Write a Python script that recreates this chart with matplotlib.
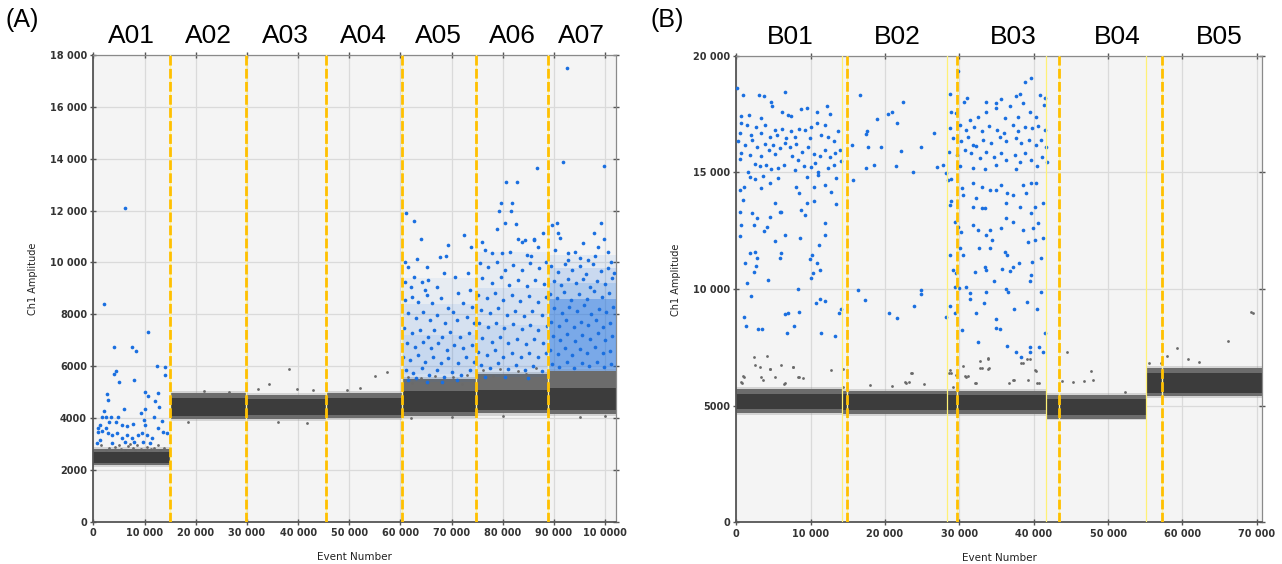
import matplotlib
matplotlib.use("Agg")
import matplotlib.pyplot as plt
import matplotlib.transforms as mtransforms

# all event numbers and amplitudes below are in thousands

# ---------------- panel A ----------------
a_wells = ["A01", "A02", "A03", "A04", "A05", "A06", "A07"]
a_label_x = [7.5, 22.4, 37.6, 52.8, 67.5, 81.8, 95.4]
a_edges = [0, 15.0, 29.9, 45.4, 60.2, 74.8, 88.8, 102.1]
a_dashes = [15.0, 29.9, 45.4, 60.2, 74.8, 88.8]
# negative droplet band per well: (low, high)
a_band_outer = [(2.20, 2.80), (3.95, 4.95), (3.98, 4.90), (4.00, 4.95),
                (4.10, 5.50), (4.18, 5.70), (4.15, 5.82)]
a_band_core = [(2.28, 2.68), (4.10, 4.78), (4.12, 4.75), (4.12, 4.78),
               (4.25, 5.05), (4.30, 5.10), (4.30, 5.15)]
# dense positive droplet clouds: (well index, low, high, density)
a_clouds = [(4, 5.4, 7.2, 0.08), (4, 5.5, 8.4, 0.08), (4, 5.7, 9.4, 0.06),
            (5, 5.6, 7.6, 0.08), (5, 5.7, 9.0, 0.08), (5, 5.9, 10.4, 0.06),
            (6, 5.82, 8.6, 0.35), (6, 5.82, 9.2, 0.15), (6, 5.9, 9.8, 0.12),
            (6, 6.0, 10.3, 0.08)]

a01_pos = [(6.19, 12.08), (2.09, 8.38), (4.10, 6.75), (7.62, 6.75), (8.34, 6.60),
           (10.74, 7.32), (12.44, 6.02), (14.0, 5.98), (14.06, 5.65), (4.49, 5.83),
           (4.10, 5.70), (5.02, 5.39), (8.01, 5.47), (2.62, 4.92), (2.93, 4.69),
           (10.10, 5.01), (10.74, 4.85), (12.69, 4.98), (12.05, 4.66), (12.89, 4.44),
           (2.03, 4.26), (5.94, 4.34), (9.32, 4.21), (10.10, 4.34), (11.85, 4.04),
           (13.48, 3.89), (0.98, 3.62), (1.31, 3.75), (1.64, 4.06), (2.42, 4.05),
           (3.13, 3.85), (0.98, 3.47), (1.64, 3.52), (2.42, 3.62), (2.93, 3.42),
           (3.46, 4.03), (4.88, 4.06), (4.37, 3.84), (5.66, 3.74), (6.52, 3.71),
           (7.81, 3.76), (9.96, 3.93), (10.10, 3.74), (12.69, 3.61), (13.67, 3.45),
           (14.33, 3.42), (3.59, 3.35), (4.57, 3.42), (5.55, 3.23), (6.52, 3.35),
           (7.50, 3.23), (8.79, 3.35), (9.45, 3.42), (10.43, 3.35), (11.41, 3.23),
           (1.31, 3.16), (0.66, 3.03), (3.59, 3.03), (6.19, 3.09), (8.01, 3.09),
           (9.77, 3.09), (11.07, 3.03)]

a05_pos = [(61.07, 11.92), (62.63, 11.60), (64.0, 10.89), (67.71, 10.20), (68.82, 10.26),
           (69.21, 10.67), (72.46, 11.04), (73.76, 10.61), (63.15, 10.12), (60.87, 10.03),
           (61.52, 9.81), (65.10, 9.81), (68.56, 9.60), (70.64, 9.45), (73.24, 9.58),
           (62.70, 9.45), (64.26, 9.26), (65.43, 9.32), (60.87, 9.26), (71.29, 8.81),
           (73.57, 8.94), (67.06, 9.07), (62.04, 9.07), (64.78, 8.94),
           (60.87, 8.55), (62.30, 8.68), (63.48, 8.49), (65.10, 8.74), (66.21, 8.42),
           (67.90, 8.61), (69.34, 8.23), (70.31, 8.10), (72.27, 8.42), (74.02, 8.29),
           (61.52, 8.04), (62.96, 7.84), (64.45, 8.10), (65.76, 7.78), (67.06, 7.97),
           (68.69, 7.65), (70.96, 7.78), (72.92, 7.91), (74.28, 7.65),
           (60.74, 7.46), (62.17, 7.27), (63.80, 7.39), (65.30, 7.14), (66.60, 7.39),
           (68.03, 7.14), (69.66, 7.33), (71.61, 7.14), (73.37, 7.27),
           (61.20, 6.88), (62.83, 6.75), (64.45, 6.94), (65.95, 6.69), (67.38, 6.88),
           (69.01, 6.62), (70.51, 6.82), (72.27, 6.69), (73.89, 6.82),
           (60.55, 6.37), (61.85, 6.24), (63.35, 6.43), (64.78, 6.17), (66.41, 6.37),
           (67.90, 6.14), (69.34, 6.30), (71.16, 6.14), (72.72, 6.37), (74.41, 6.17),
           (61.0, 5.85), (62.5, 5.72), (64.13, 5.92), (65.56, 5.66), (67.06, 5.85),
           (68.56, 5.60), (69.99, 5.79), (71.81, 5.66), (73.57, 5.85),
           (61.52, 5.47), (65.1, 5.40), (68.03, 5.40), (70.96, 5.47), (62.96, 5.53)]

a06_pos = [(82.75, 13.11), (81.84, 12.28), (81.57, 11.99), (82.49, 11.48), (78.91, 11.28),
           (75.98, 10.80), (83.01, 10.89), (83.66, 10.80), (84.31, 10.86), (86.13, 10.86),
           (86.91, 10.61), (87.89, 11.12), (76.50, 10.48), (77.80, 10.38), (79.75, 10.35),
           (81.38, 10.41), (84.63, 10.29), (85.48, 10.25), (86.6, 13.65), (80.6, 13.1),
           (79.6, 12.3), (79.3, 12.0), (80.5, 11.5), (86.0, 10.9),
           (75.52, 9.96), (77.15, 9.81), (78.78, 10.03), (80.40, 9.71), (82.03, 9.90),
           (83.66, 9.71), (85.29, 9.96), (87.04, 9.77), (88.35, 10.03),
           (75.98, 9.39), (77.80, 9.19), (79.62, 9.45), (81.18, 9.13), (82.88, 9.32),
           (84.63, 9.09), (86.26, 9.32), (88.08, 9.17),
           (75.20, 8.74), (76.82, 8.61), (78.45, 8.81), (80.08, 8.55), (81.71, 8.74),
           (83.33, 8.53), (85.09, 8.71), (86.78, 8.49), (88.35, 8.68),
           (75.72, 8.17), (77.47, 8.04), (79.10, 8.23), (80.73, 7.97), (82.36, 8.14),
           (84.18, 7.93), (85.74, 8.14), (87.56, 7.97),
           (75.33, 7.65), (77.02, 7.50), (78.58, 7.68), (80.27, 7.46), (82.03, 7.63),
           (83.66, 7.42), (85.29, 7.59), (86.91, 7.39), (88.54, 7.55),
           (75.98, 7.07), (77.80, 6.94), (79.42, 7.14), (81.05, 6.88), (82.68, 7.03),
           (84.44, 6.85), (86.13, 7.03), (87.89, 6.88),
           (75.20, 6.56), (76.82, 6.43), (78.45, 6.62), (80.08, 6.37), (81.71, 6.52),
           (83.53, 6.34), (85.09, 6.52), (86.78, 6.37), (88.35, 6.50),
           (75.72, 6.05), (77.47, 5.92), (79.10, 6.11), (80.92, 5.88), (82.49, 6.05),
           (84.31, 5.85), (85.94, 6.01), (87.70, 5.83),
           (76.50, 5.60), (80.40, 5.57), (84.83, 5.53)]

a07_pos = [(92.5, 17.49), (91.7, 13.87), (99.7, 13.70),
           (89.52, 11.44), (90.49, 11.51), (90.69, 11.12), (91.14, 10.93), (92.64, 10.38),
           (94.07, 10.41), (95.70, 10.76), (97.85, 11.15), (99.09, 11.51), (98.63, 10.61),
           (99.80, 10.89), (100.6, 10.41), (90.17, 10.48), (95.05, 10.16), (96.68, 10.09),
           (97.98, 10.25), (92.77, 10.09), (101.2, 10.03),
           (89.4, 9.85), (90.8, 9.62), (92.1, 9.95), (93.5, 9.70), (95.0, 9.88),
           (96.3, 9.55), (97.7, 9.92), (99.2, 9.66), (100.6, 9.80), (101.7, 9.58),
           (89.9, 9.30), (91.3, 9.12), (92.8, 9.38), (94.2, 9.20), (95.7, 9.35),
           (97.0, 9.05), (98.4, 9.28), (99.9, 9.15), (101.3, 9.40),
           (89.3, 8.80), (90.6, 8.62), (92.0, 8.85), (93.4, 8.55), (94.9, 8.78),
           (96.4, 8.60), (97.8, 8.90), (99.3, 8.66), (100.8, 8.82),
           (90.0, 8.25), (91.5, 8.05), (92.9, 8.30), (94.4, 8.12), (95.8, 8.36),
           (97.3, 8.02), (98.7, 8.22), (100.2, 8.08), (101.6, 8.30),
           (89.5, 7.70), (90.9, 7.55), (92.3, 7.78), (93.8, 7.50), (95.2, 7.72),
           (96.7, 7.58), (98.1, 7.80), (99.6, 7.52), (101.0, 7.68),
           (89.8, 7.15), (91.2, 7.02), (92.6, 7.25), (94.1, 6.98), (95.5, 7.20),
           (97.0, 7.05), (98.5, 7.28), (99.9, 7.00), (101.4, 7.18),
           (89.2, 6.62), (90.7, 6.48), (92.2, 6.70), (93.6, 6.45), (95.1, 6.66),
           (96.5, 6.52), (98.0, 6.75), (99.5, 6.50), (100.9, 6.60),
           (89.6, 6.10), (91.0, 5.98), (92.5, 6.15), (93.9, 5.95), (95.4, 6.12),
           (96.9, 6.02), (98.3, 6.18), (99.8, 5.96), (101.2, 6.08)]

a_gray = [(1.5, 2.95), (3.0, 2.85), (4.2, 2.90), (5.5, 2.80), (6.8, 2.92), (7.7, 2.85),
          (8.6, 2.98), (9.4, 2.82), (10.5, 2.90), (11.8, 2.86), (12.7, 2.95), (13.8, 2.84),
          (2.4, 2.78), (6.1, 2.76), (9.9, 2.78), (11.2, 2.80), (13.1, 2.78), (7.2, 3.00),
          (8.2, 2.78), (5.0, 2.95),
          (32.2, 5.13), (34.4, 5.33), (38.2, 5.90), (39.7, 5.13), (55.1, 5.62), (57.3, 5.76),
          (21.6, 5.05), (26.5, 5.02), (43.0, 5.08), (49.5, 5.10), (52.0, 5.15),
          (18.5, 3.85), (36.0, 3.85), (41.8, 3.82),
          (61.5, 5.60), (64.0, 5.55), (66.8, 5.62), (70.2, 5.58), (73.0, 5.66), (76.2, 5.85),
          (79.5, 5.90), (83.0, 5.80), (86.4, 5.95), (62.3, 5.35), (68.0, 5.40), (72.1, 5.30),
          (78.0, 5.62), (84.5, 5.70), (62.0, 4.02), (70.0, 4.05), (80.0, 4.10), (95.0, 4.05),
          (100.0, 4.10)]

a_xticks = [0, 10, 20, 30, 40, 50, 60, 70, 80, 90, 100]
a_xticklabels = ["0", "10 000", "20 000", "30 000", "40 000", "50 000", "60 000",
                 "70 000", "80 000", "90 000", "10 0000"]
a_yticks = [0, 2, 4, 6, 8, 10, 12, 14, 16, 18]
a_yticklabels = ["0", "2000", "4000", "6000", "8000", "10 000", "12 000", "14 000",
                 "16 000", "18 000"]

# ---------------- panel B ----------------
b_wells = ["B01", "B02", "B03", "B04", "B05"]
b_label_x = [7.3, 21.6, 37.2, 51.3, 65.0]
b_edges = [0, 14.2, 28.3, 41.7, 55.15, 70.7]
b_wells_lines = [14.2, 28.3, 41.7, 55.15]
b_dashes = [14.87, 29.7, 43.4, 57.3]
b_band_outer = [(4.70, 5.70), (4.65, 5.65), (4.65, 5.65), (4.45, 5.45), (5.40, 6.62)]
b_band_core = [(4.85, 5.50), (4.82, 5.48), (4.82, 5.45), (4.62, 5.28), (5.55, 6.38)]

b01_pos = [(0.09, 18.60), (0.90, 18.32), (3.0, 18.32), (3.67, 18.25), (6.59, 18.45),
           (4.61, 18.0), (4.84, 17.82), (3.36, 17.32), (1.66, 17.46), (0.58, 17.42),
           (6.18, 17.60), (6.94, 17.46), (7.30, 17.43), (8.65, 17.70), (9.54, 17.75),
           (10.89, 17.58), (12.14, 17.85), (12.63, 17.49),
           (0.67, 17.10), (1.48, 17.03), (2.69, 16.96), (3.81, 17.03), (5.15, 16.82),
           (6.14, 16.85), (7.39, 16.79), (8.42, 16.85), (9.27, 16.82), (10.08, 16.96),
           (10.89, 17.10), (11.96, 17.03), (13.66, 16.77), (0.45, 16.67), (2.02, 16.60),
           (3.36, 16.67), (4.48, 16.53), (5.51, 16.60), (6.72, 16.46), (7.84, 16.53),
           (9.86, 16.46), (11.33, 16.60), (12.32, 16.53), (13.13, 16.36),
           (0.22, 16.32), (1.12, 16.18), (2.11, 16.39), (2.82, 16.10), (3.90, 16.22),
           (4.35, 15.96), (4.93, 16.18), (5.82, 16.03), (6.50, 16.25), (7.17, 16.07),
           (8.06, 16.22), (8.83, 15.89), (9.63, 16.07), (10.44, 15.79), (11.20, 15.70),
           (11.87, 15.96), (12.54, 15.65), (13.31, 15.82), (13.89, 15.96), (0.67, 15.82),
           (1.79, 15.75), (3.27, 15.70), (5.15, 15.79), (7.48, 15.70),
           (0.45, 15.56), (2.46, 15.36), (3.14, 15.25), (4.03, 15.32), (5.60, 15.17),
           (6.41, 15.32), (8.29, 15.53), (9.09, 15.25), (9.99, 15.22), (10.62, 15.39),
           (12.32, 15.17), (13.13, 15.32), (1.57, 15.03), (4.70, 15.13), (7.84, 15.10),
           (10.98, 15.03), (14.11, 15.50),
           (1.79, 14.79), (2.46, 14.70), (3.58, 14.85), (4.48, 14.53), (5.60, 14.75),
           (8.06, 14.39), (8.38, 14.10), (9.54, 14.82), (10.98, 14.89), (11.87, 14.46),
           (12.77, 14.17), (13.44, 14.75), (0.45, 14.25), (1.03, 14.39), (3.36, 14.32),
           (10.44, 14.36),
           (0.90, 13.82), (0.45, 13.32), (2.11, 13.25), (2.82, 13.03), (4.48, 13.10),
           (5.15, 13.67), (5.82, 13.32), (6.05, 13.32), (8.65, 13.39), (9.18, 13.17),
           (9.50, 13.67), (10.44, 13.75), (11.96, 12.82), (13.44, 13.65), (0.67, 12.75),
           (2.37, 12.75), (4.17, 12.67), (3.72, 12.49), (6.50, 12.32), (8.51, 12.17),
           (11.96, 12.32), (11.07, 11.89), (0.45, 12.25),
           (5.15, 12.07), (1.84, 11.53), (1.12, 11.10), (2.55, 11.60), (2.73, 11.32),
           (2.69, 10.99), (2.37, 10.72), (1.43, 10.27), (4.26, 10.39), (5.82, 11.34),
           (6.05, 11.56), (9.86, 11.27), (10.21, 11.44), (10.84, 11.13), (10.30, 10.67),
           (10.08, 10.46), (11.20, 10.82), (8.29, 10.0), (1.93, 9.70),
           (1.03, 8.82), (1.34, 8.42), (2.91, 8.27), (3.49, 8.27), (6.50, 8.93),
           (6.94, 8.96), (8.42, 9.0), (7.75, 8.42), (6.85, 8.10), (10.66, 9.39),
           (11.24, 9.56), (11.87, 9.50), (11.42, 8.13), (13.31, 7.99), (13.80, 8.96),
           (14.11, 9.13)]

b02_pos = [(15.5, 16.17), (15.64, 14.67), (16.62, 18.32), (17.43, 16.65), (17.61, 16.75),
           (17.74, 16.10), (17.43, 15.17), (18.51, 15.32), (18.95, 17.28), (19.40, 16.10),
           (20.34, 17.50), (20.88, 17.60), (21.55, 17.10), (21.46, 15.25), (22.09, 15.92),
           (22.36, 18.03), (23.79, 15.03), (24.78, 16.10), (26.57, 16.68), (26.93, 15.22),
           (27.82, 15.32), (28.18, 14.96),
           (16.40, 9.96), (17.30, 9.53), (20.57, 8.96), (21.55, 8.77), (23.88, 9.29),
           (24.78, 9.96), (24.78, 9.79), (28.18, 8.79)]

b03_pos = [(29.84, 19.32), (28.72, 18.36), (31.05, 18.18), (33.65, 18.03), (34.99, 17.96),
           (35.66, 18.13), (37.68, 18.27), (38.22, 18.36), (38.89, 18.85), (39.70, 19.03),
           (40.91, 18.32), (41.49, 18.18),
           (28.94, 17.60), (29.53, 17.53), (30.65, 18.03), (31.41, 17.25), (32.53, 17.39),
           (33.65, 17.60), (34.90, 17.75), (36.11, 17.32), (36.78, 17.82), (37.90, 17.39),
           (38.58, 17.99), (39.47, 17.60), (40.37, 17.36), (41.40, 17.89),
           (28.72, 16.89), (30.06, 17.03), (30.87, 16.82), (31.95, 16.96), (32.98, 16.75),
           (34.01, 16.99), (35.0, 16.82), (35.98, 16.67), (37.23, 17.03), (37.90, 16.75),
           (38.80, 16.96), (39.83, 16.89), (40.59, 16.99), (41.49, 16.82), (29.17, 16.46),
           (30.29, 16.32), (31.18, 16.53), (31.86, 16.17), (32.30, 16.13), (33.20, 16.39),
           (34.32, 16.25), (35.44, 16.53), (36.34, 16.32), (37.59, 16.46), (38.35, 16.25),
           (39.38, 16.39), (40.28, 16.17), (41.04, 16.39), (41.71, 16.10),
           (28.63, 15.89), (29.62, 15.75), (30.74, 15.96), (31.63, 15.82), (32.75, 15.60),
           (33.65, 15.89), (34.63, 15.67), (35.66, 15.82), (36.34, 15.53), (37.46, 15.75),
           (38.13, 15.46), (38.80, 15.82), (39.70, 15.53), (40.46, 15.25), (41.17, 15.67),
           (41.80, 15.46), (30.06, 15.25), (31.86, 15.17), (33.42, 15.13), (34.99, 15.32),
           (37.68, 15.13),
           (28.50, 14.67), (28.94, 14.70), (30.42, 14.32), (30.51, 14.03), (31.77, 14.53),
           (32.21, 13.89), (32.98, 14.39), (34.10, 14.25), (34.90, 14.25), (35.66, 14.46),
           (36.43, 14.10), (37.23, 14.03), (38.58, 14.46), (38.94, 14.10), (39.70, 14.53),
           (40.37, 14.53), (32.98, 13.46), (33.42, 13.46), (28.72, 13.60), (28.94, 13.75),
           (31.86, 13.53), (36.34, 13.67), (38.22, 13.50), (40.14, 13.53), (41.26, 13.70),
           (39.70, 13.25),
           (29.39, 12.89), (29.84, 12.67), (30.20, 12.46), (31.86, 12.74), (32.53, 12.53),
           (33.65, 12.32), (34.10, 12.53), (34.45, 12.10), (35.66, 12.60), (36.34, 13.03),
           (37.23, 12.89), (38.58, 12.53), (39.25, 12.03), (39.92, 12.60), (40.59, 12.82),
           (41.26, 12.17), (30.06, 11.74), (30.51, 11.46), (32.66, 11.74), (34.10, 11.74),
           (36.11, 11.60), (36.43, 11.46), (38.04, 11.10), (39.83, 11.17), (41.04, 11.32),
           (40.14, 12.10), (28.72, 11.46),
           (29.17, 10.82), (29.53, 10.70), (32.08, 10.74), (33.42, 10.96), (33.65, 10.82),
           (35.80, 10.84), (36.78, 10.79), (37.23, 10.93), (34.63, 10.36), (39.70, 10.60),
           (39.47, 10.36), (29.39, 10.10), (29.98, 10.03), (30.87, 10.07), (31.50, 9.84),
           (31.41, 9.56), (33.56, 9.89), (36.34, 9.99), (36.56, 9.89), (39.16, 9.43),
           (41.04, 9.89), (28.72, 9.27), (29.39, 8.96), (32.30, 8.96), (33.33, 9.39),
           (37.37, 9.13), (40.50, 9.14),
           (30.42, 8.24), (32.53, 7.74), (34.90, 8.70), (34.99, 8.32), (35.44, 8.27),
           (36.43, 7.56), (37.68, 7.32), (38.35, 7.10), (39.47, 7.50), (39.47, 7.32),
           (40.73, 7.50), (41.26, 7.32), (41.49, 8.10)]

b_gray = [(2.37, 7.10), (4.17, 7.14), (2.46, 6.74), (3.14, 6.67), (4.48, 6.56),
          (5.96, 6.73), (7.62, 6.67), (12.68, 6.53), (14.34, 6.56), (0.90, 6.27),
          (0.67, 6.00), (3.36, 6.24), (5.24, 6.24), (8.29, 6.22), (8.96, 6.17),
          (6.59, 5.96), (0.77, 5.97), (0.98, 6.25), (3.61, 6.11), (4.59, 6.57),
          (6.45, 5.94), (7.60, 6.65), (8.42, 6.21),
          (14.37, 5.80), (20.98, 5.83), (22.73, 6.00), (23.28, 6.00), (23.55, 6.40),
          (25.30, 5.93), (28.58, 6.42), (28.74, 6.54), (29.18, 5.80), (29.56, 6.32),
          (30.49, 6.68), (30.71, 6.28), (30.93, 6.25), (32.13, 5.97), (32.73, 6.92),
          (32.73, 6.61), (33.83, 6.57), (33.83, 7.01), (37.27, 6.11), (38.31, 6.82),
          (39.13, 7.01), (39.24, 6.08), (40.11, 6.51), (40.49, 5.97), (44.43, 7.28),
          (43.77, 6.04), (45.25, 6.00), (46.78, 6.07), (47.76, 6.47), (48.03, 6.11),
          (52.24, 5.57), (55.52, 6.85), (57.16, 6.85), (57.98, 7.14), (59.23, 7.49),
          (60.71, 6.99), (62.19, 6.89), (66.17, 7.78), (69.18, 9.03), (69.45, 8.99),
          (28.94, 6.39), (31.18, 6.27), (32.98, 6.60), (33.87, 7.03), (34.01, 6.60),
          (32.30, 5.99), (36.69, 5.96), (37.32, 6.10), (38.58, 6.82), (39.47, 6.99),
          (40.37, 6.50), (40.73, 5.96), (23.66, 6.42), (22.81, 5.99), (17.97, 5.89)]

b_xticks = [0, 10, 20, 30, 40, 50, 60, 70]
b_xticklabels = ["0", "10 000", "20 000", "30 000", "40 000", "50 000", "60 000", "70 000"]
b_yticks = [0, 5, 10, 15, 20]
b_yticklabels = ["0", "5000", "10 000", "15 000", "20 000"]

BLUE = "#1a6fe0"
K = 1000.0


def style_axes(ax, xmax, ymax, xt, xtl, yt, ytl):
    ax.set_facecolor("#f4f4f4")
    ax.set_xlim(0, xmax * K)
    ax.set_ylim(0, ymax * K)
    ax.set_xticks([v * K for v in xt])
    ax.set_xticklabels(xtl)
    ax.set_yticks([v * K for v in yt])
    ax.set_yticklabels(ytl)
    ax.grid(True, color="#dadada", lw=0.9)
    ax.set_axisbelow(True)
    ax.tick_params(direction="inout", length=5, width=1, color="#555555",
                   labelsize=7, pad=2, labelcolor="#333333", top=True, right=True)
    for lab in ax.get_xticklabels() + ax.get_yticklabels():
        lab.set_fontweight("bold")
    for side in ["left", "bottom"]:
        ax.spines[side].set_color("#555555")
        ax.spines[side].set_linewidth(1.3)
    for side in ["top", "right"]:
        ax.spines[side].set_color("#8a8a8a")
        ax.spines[side].set_linewidth(0.9)
    ax.set_xlabel("Event Number", fontsize=7.5, color="#222222")
    ax.set_ylabel("Ch1 Amplitude", fontsize=7, color="#222222")
    ax.xaxis.set_label_coords(0.5, -0.065)
    ax.yaxis.set_label_coords(-0.106, 0.52)


def draw_bands(ax, edges, outer, core):
    for i in range(len(outer)):
        xs = [edges[i] * K, edges[i + 1] * K]
        lo, hi = outer[i]
        ax.fill_between(xs, (lo - 0.08) * K, (hi + 0.08) * K, color="#9a9a9a",
                        alpha=0.35, lw=0, zorder=2)
        ax.fill_between(xs, lo * K, hi * K, color="#6c6c6c", lw=0, zorder=2)
        lo, hi = core[i]
        ax.fill_between(xs, lo * K, hi * K, color="#3c3c3c", lw=0, zorder=2)


def draw_clouds(ax, edges, clouds):
    for i, lo, hi, dens in clouds:
        ax.fill_between([edges[i] * K, edges[i + 1] * K], lo * K, hi * K,
                        color=BLUE, alpha=dens, lw=0, zorder=3)


def dots(ax, pts, color, size):
    ax.scatter([p[0] * K for p in pts], [p[1] * K for p in pts], s=size, c=color,
               lw=0, zorder=4)


fig = plt.figure(figsize=(12.82, 5.64), dpi=100)
axA = fig.add_axes([0.0728, 0.0746, 0.4077, 0.8282])
axB = fig.add_axes([0.5743, 0.0738, 0.4101, 0.8276])

# panel A
style_axes(axA, 102.1, 18, a_xticks, a_xticklabels, a_yticks, a_yticklabels)
draw_bands(axA, a_edges, a_band_outer, a_band_core)
draw_clouds(axA, a_edges, a_clouds)
dots(axA, a_gray, "#6a6a6a", 4)
for pts in [a01_pos, a05_pos, a06_pos, a07_pos]:
    dots(axA, pts, BLUE, 7)
for x in a_dashes:
    axA.axvline(x * K, color="#fff59d", lw=1.0, zorder=5)
    axA.axvline(x * K, color="#ffc000", lw=2.0, ls=(0, (3.5, 1.2)), zorder=6)
trA = mtransforms.blended_transform_factory(axA.transData, axA.transAxes)
for name, x in zip(a_wells, a_label_x):
    axA.text(x * K, 1.04, name, transform=trA, ha="center", va="center",
             fontsize=19, family="Liberation Sans")

# panel B
style_axes(axB, 70.7, 20, b_xticks, b_xticklabels, b_yticks, b_yticklabels)
draw_bands(axB, b_edges, b_band_outer, b_band_core)
dots(axB, b_gray, "#6a6a6a", 4)
for pts in [b01_pos, b02_pos, b03_pos]:
    dots(axB, pts, BLUE, 7)
for x in b_wells_lines:
    axB.axvline(x * K, color="#fff176", lw=0.9, zorder=5)
for x in b_dashes:
    axB.axvline(x * K, color="#fff59d", lw=1.0, zorder=5)
    axB.axvline(x * K, color="#ffc000", lw=2.0, ls=(0, (3.5, 1.2)), zorder=6)
trB = mtransforms.blended_transform_factory(axB.transData, axB.transAxes)
for name, x in zip(b_wells, b_label_x):
    axB.text(x * K, 1.04, name, transform=trB, ha="center", va="center",
             fontsize=19, family="Liberation Sans")

fig.text(22 / 1282, 1 - 20 / 564, "(A)", ha="center", va="center", fontsize=18,
         family="Liberation Sans")
fig.text(667 / 1282, 1 - 20 / 564, "(B)", ha="center", va="center", fontsize=18,
         family="Liberation Sans")

fig.savefig("out.png", dpi=100)
